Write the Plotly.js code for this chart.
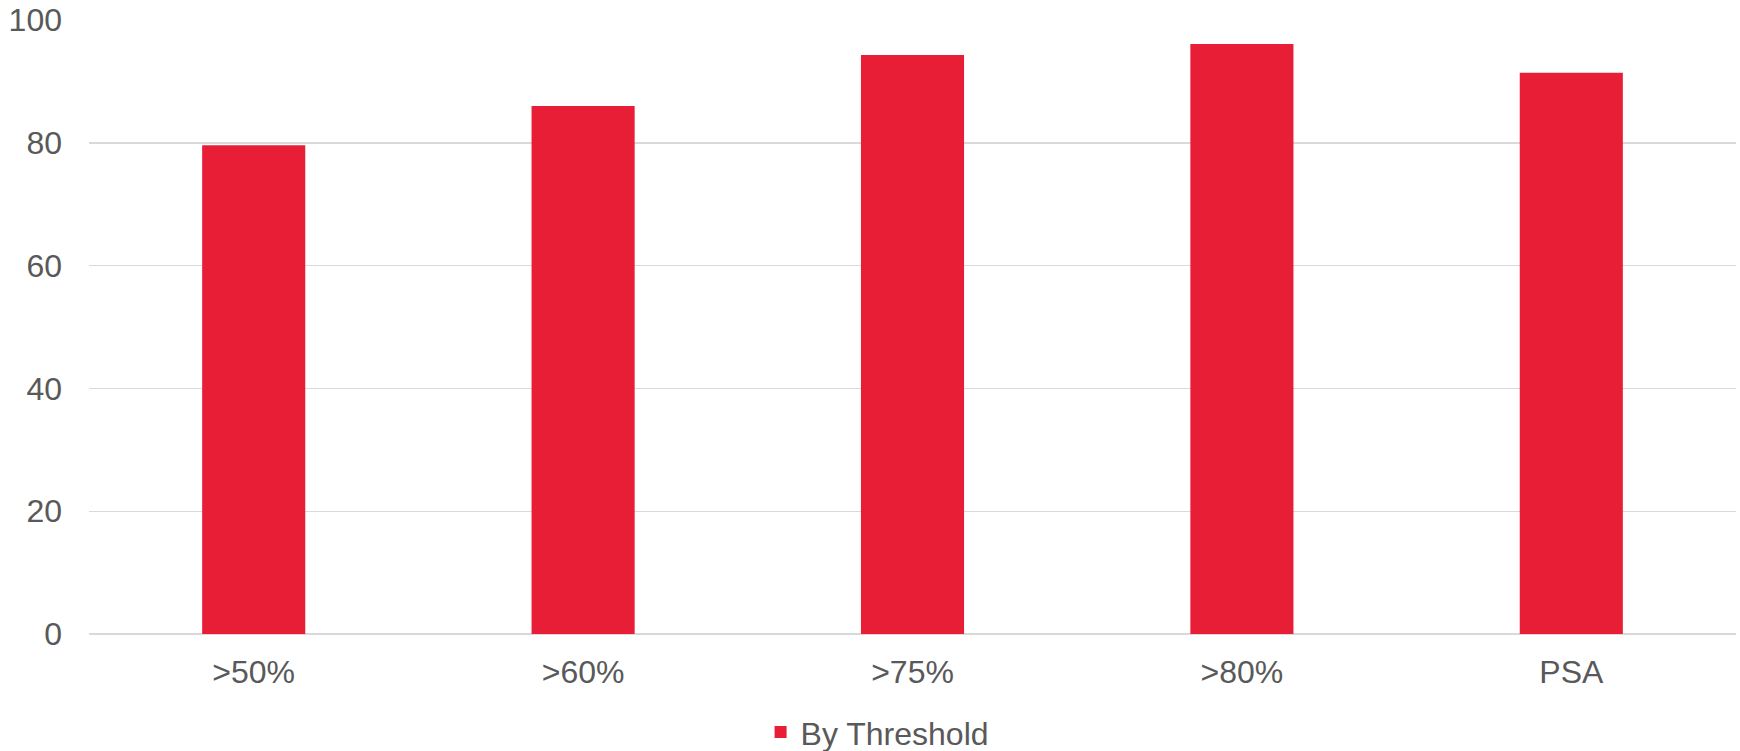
<!DOCTYPE html>
<html>
<head>
<meta charset="utf-8">
<script src="https://cdn.plot.ly/plotly-3.0.1.min.js"></script>
<style>html,body{margin:0;padding:0;background:#fff;}#chart{width:1740px;height:751px;}</style>
</head>
<body>
<div id="chart"></div>
<script>
const categories = [">50%", ">60%", ">75%", ">80%", "PSA"];
const values = [79.6, 86.0, 94.3, 96.1, 91.4];
const seriesName = "By Threshold";
const yTicks = [0, 20, 40, 60, 80, 100];

const textColor = "#595959";
const gridColor = "#d9d9d9";
const font = {family: "Liberation Sans, Arial, sans-serif", size: 32, color: textColor};

const trace = {
  type: "bar",
  x: categories,
  y: values,
  name: seriesName,
  marker: {color: "#E81E37"},
  hoverinfo: "x+y"
};

const layout = {
  width: 1740,
  height: 751,
  margin: {l: 89, r: 4, t: 20, b: 117, pad: 0, autoexpand: false},
  paper_bgcolor: "#ffffff",
  plot_bgcolor: "#ffffff",
  font: font,
  bargap: 0.687,
  showlegend: true,
  legend: {
    orientation: "h",
    x: 0.4785,
    xanchor: "center",
    y: -0.16,
    yanchor: "middle",
    font: font,
    bgcolor: "rgba(0,0,0,0)"
  },
  xaxis: {
    type: "category",
    showgrid: false,
    showline: false,
    zeroline: false,
    ticks: "",
    tickfont: font,
    ticklabelstandoff: 16
  },
  yaxis: {
    range: [0, 100],
    tickvals: yTicks,
    showgrid: true,
    gridcolor: gridColor,
    gridwidth: 1.4,
    zeroline: true,
    zerolinecolor: gridColor,
    zerolinewidth: 1.4,
    showline: false,
    ticks: "",
    tickfont: font,
    ticklabelstandoff: 26
  }
};

Plotly.newPlot("chart", [trace], layout, {displayModeBar: false, staticPlot: true});
</script>
</body>
</html>
